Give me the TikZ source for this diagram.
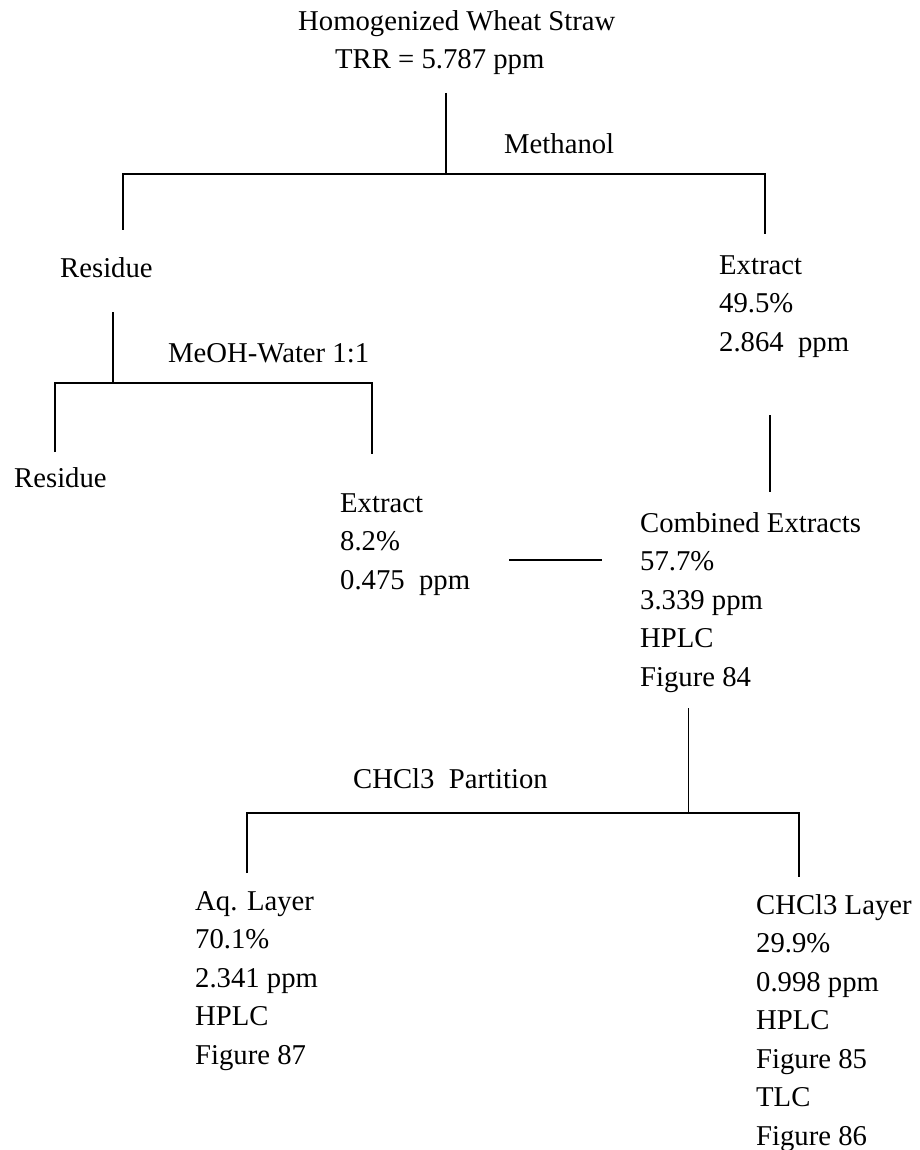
\documentclass[tikz,border=0pt]{standalone}
\usepackage{fontspec}
\setmainfont{Liberation Serif}
\newcommand\rows[1]{\begin{tabular}[t]{@{}l@{}}#1\end{tabular}}
\tikzset{
  lbl/.style={anchor=base west, inner sep=0pt, font=\fontsize{28.7}{38.5}\selectfont},
  bar/.style={line width=2pt},
  thinbar/.style={line width=1pt}
}
\begin{document}
\begin{tikzpicture}[x=1pt, y=-1pt]
\useasboundingbox (0,0) rectangle (919,1150);

% text blocks
\node[lbl] (straw) at (298,31) {\rows{Homogenized Wheat Straw}};
\node[lbl] (trr) at (335,69) {TRR = 5.787 ppm};
\node[lbl] (meth) at (504,154) {Methanol};
\node[lbl] (res1) at (60,277) {Residue};
\node[lbl] (ext1) at (719,274) {\rows{Extract\\49.5\%\\2.864~~ppm}};
\node[lbl] (mw) at (168,362) {MeOH-Water 1:1};
\node[lbl] (res2) at (14,487) {Residue};
\node[lbl] (ext2) at (340,512) {\rows{Extract\\8.2\%\\0.475~~ppm}};
\node[lbl] (comb) at (640,532) {\rows{Combined Extracts\\57.7\%\\3.339 ppm\\HPLC\\Figure 84}};
\node[lbl] (part) at (353,788) {CHCl3~~Partition};
\node[lbl] (aq) at (195,910) {\rows{Aq. Layer\\70.1\%\\2.341 ppm\\HPLC\\Figure 87}};
\node[lbl] (chl) at (756,914) {\rows{CHCl3 Layer\\29.9\%\\0.998 ppm\\HPLC\\Figure 85\\TLC\\Figure 86}};

% methanol split
\coordinate (s0) at (446,93);
\coordinate (s1) at (446,174);
\coordinate (sL) at (123,174);
\coordinate (sR) at (765,174);
\coordinate (sLd) at (123,230);
\coordinate (sRd) at (765,234);
\draw[bar] (s0) -- (s1);
\draw[bar] (sLd) -- (sL) -- (sR) -- (sRd);

% methanol-water split of the residue
\coordinate (m0) at (113,312);
\coordinate (m1) at (113,383);
\coordinate (mL) at (55,383);
\coordinate (mR) at (372,383);
\coordinate (mLd) at (55,452);
\coordinate (mRd) at (372,454);
\draw[bar] (m0) -- (m1);
\draw[bar] (mLd) -- (mL) -- (mR) -- (mRd);

% extracts combined
\coordinate (e0) at (770,415);
\coordinate (e1) at (770,492);
\draw[bar] (e0) -- (e1);
\coordinate (j0) at (509,560);
\coordinate (j1) at (602,560);
\draw[bar] (j0) -- (j1);

% chloroform partition
\coordinate (p0) at (688,708);
\coordinate (p1) at (688,813);
\coordinate (pL) at (247,813);
\coordinate (pR) at (799,813);
\coordinate (pLd) at (247,873);
\coordinate (pRd) at (799,877);
\draw[thinbar] (p0) -- (p1);
\draw[bar] (pLd) -- (pL) -- (pR) -- (pRd);
\end{tikzpicture}
\end{document}
